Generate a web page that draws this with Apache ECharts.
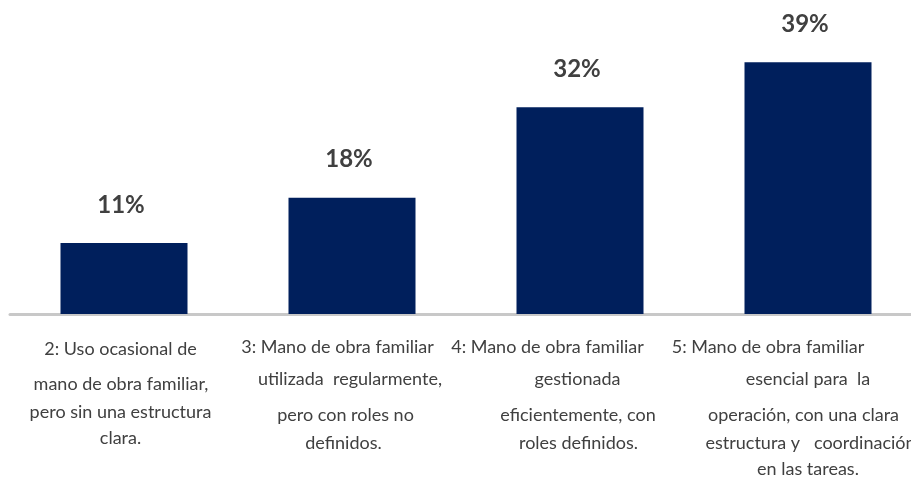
<!DOCTYPE html>
<html>
<head>
<meta charset="utf-8">
<script src="https://cdn.jsdelivr.net/npm/echarts@6/dist/echarts.min.js"></script>
<style>html,body{margin:0;padding:0;background:#fff}#c{width:911px;height:478px}</style>
</head>
<body>
<div id="c"></div>
<script>
const categories = [
  "2: Uso ocasional de\nmano de obra familiar,\npero sin una estructura\nclara.",
  "3: Mano de obra familiar\nutilizada  regularmente,\npero con roles no\ndefinidos.",
  "4: Mano de obra familiar\ngestionada\neficientemente, con\nroles definidos.",
  "5: Mano de obra familiar\nesencial para  la\noperación, con una clara\nestructura y   coordinación\nen las tareas."
];
const values = [11, 18, 32, 39];

// layout: per-category line heights and horizontal shifts (px, negative = left)
const lineHeights = [
  [40, 30, 26, 26],
  [36, 28, 44, 12],
  [36, 28, 44, 12],
  [36, 28, 44, 12, 40]
];
const shifts = [
  [-3.5, -3, -3.5, -3.5],
  [-14.5, -2, -6.5, -8.5],
  [-32.5, -2.5, -2, -1.5],
  [-40, 0, -4.5, 2.5, 0]
];

const rich = {};
categories.forEach((c, i) => {
  c.split("\n").forEach((ln, j) => {
    const s = shifts[i][j];
    rich["c" + i + "l" + j] = {
      fontFamily: "Lato",
      fontSize: 18,
      color: "#404040",
      lineHeight: lineHeights[i][j],
      padding: s < 0 ? [0, -2 * s, 0, 0] : [0, 0, 0, 2 * s]
    };
  });
});

const chart = echarts.init(document.getElementById("c"));
chart.setOption({
  animation: false,
  backgroundColor: "#fff",
  grid: { left: 10, top: 4, width: 912, height: 310, containLabel: false, outerBoundsMode: "none" },
  xAxis: {
    type: "category",
    data: categories,
    axisLine: { lineStyle: { color: "#c8c8c8", width: 3 } },
    axisTick: { show: false },
    axisLabel: {
      interval: 0,
      margin: 15,
      hideOverlap: false,
      formatter: function (v, idx) {
        return v.split("\n").map((ln, j) => "{c" + idx + "l" + j + "|" + ln + "}").join("\n");
      },
      rich: rich
    }
  },
  yAxis: { type: "value", min: 0, max: 48, show: false, splitLine: { show: false } },
  series: [{
    type: "bar",
    data: values,
    barWidth: 127,
    itemStyle: { color: "#001f5c" },
    label: {
      show: true,
      position: "top",
      distance: 26,
      offset: [-3, 0],
      formatter: "{c}%",
      fontFamily: "Lato",
      fontWeight: "bold",
      fontSize: 24,
      lineHeight: 24,
      color: "#404040"
    }
  }]
});
</script>
</body>
</html>
